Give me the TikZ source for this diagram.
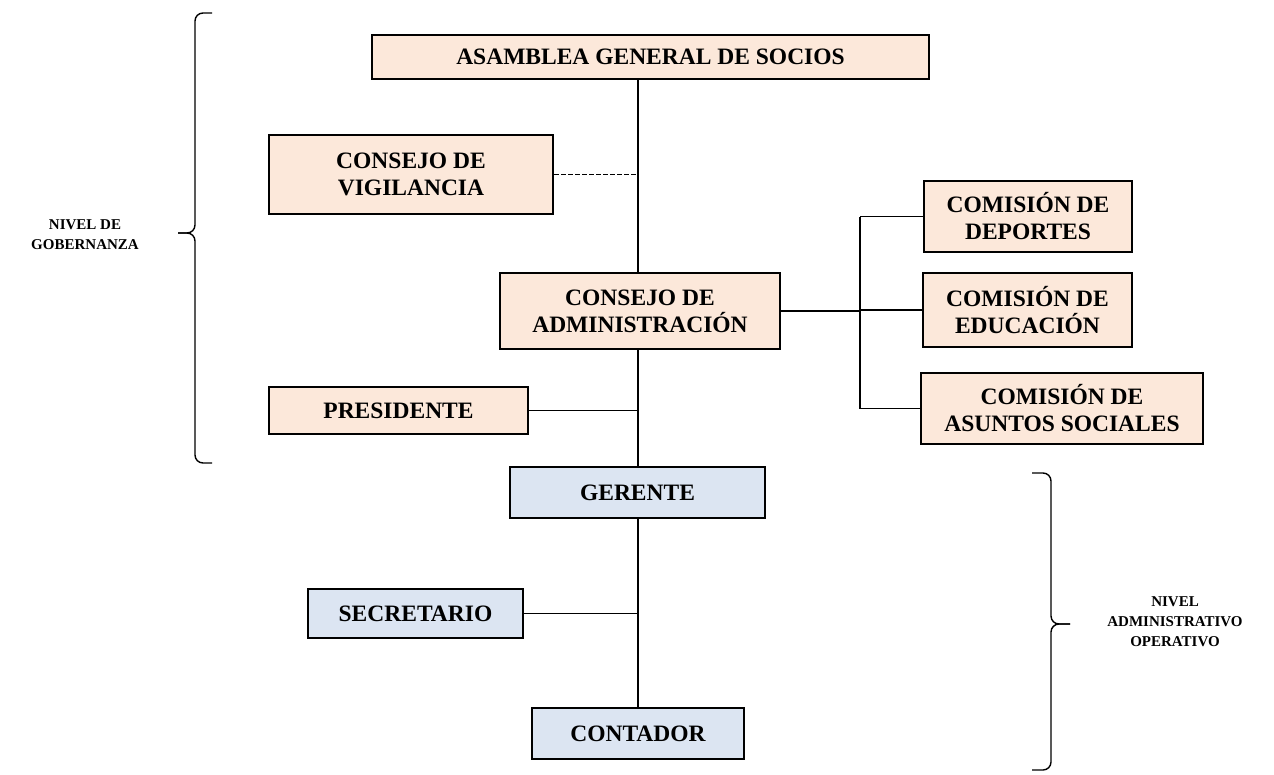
\documentclass[tikz,border=0pt]{standalone}
\usepackage{fontspec}
\setmainfont{Liberation Serif}
\definecolor{peach}{HTML}{FCE8DA}
\definecolor{lblue}{HTML}{DCE5F2}
\begin{document}
\begin{tikzpicture}[x=1pt,y=-1pt,
  box/.style={draw=black,line width=2pt,align=center,inner sep=0pt,
    font=\fontsize{23.5}{27}\selectfont\bfseries},
  gov/.style={box,fill=peach},
  adm/.style={box,fill=lblue},
  link/.style={draw=black,line width=1.3pt},
  dlink/.style={link,dash pattern=on 4.5pt off 2.5pt},
  brc/.style={draw=black,line width=1.4pt,rounded corners=8pt},
  lvl/.style={align=center,inner sep=0pt,font=\fontsize{15}{20}\selectfont\bfseries}]
\useasboundingbox (0,0) rectangle (1274,774);
\coordinate (sx) at (638,0);
\coordinate (cx) at (860,0);
\node[gov,minimum width=557pt,minimum height=44pt] (asamblea) at (650.5,57) {ASAMBLEA GENERAL DE SOCIOS};
\node[gov,minimum width=284pt,minimum height=79pt] (vigilancia) at (411,174.5) {CONSEJO DE\\VIGILANCIA};
\node[gov,minimum width=280pt,minimum height=76pt] (admin) at (640,311) {CONSEJO DE\\ADMINISTRACIÓN};
\node[gov,minimum width=259pt,minimum height=47pt] (presidente) at (398.5,410.5) {PRESIDENTE};
\node[gov,minimum width=208pt,minimum height=71pt] (deportes) at (1028,216.5) {COMISIÓN DE\\DEPORTES};
\node[gov,minimum width=209pt,minimum height=74pt] (educacion) at (1027.5,310) {COMISIÓN DE\\EDUCACIÓN};
\node[gov,minimum width=282pt,minimum height=71pt] (asuntos) at (1062,408.5) {COMISIÓN DE\\ASUNTOS SOCIALES};
\node[adm,minimum width=255pt,minimum height=51pt] (gerente) at (637.5,492.5) {GERENTE};
\node[adm,minimum width=215pt,minimum height=49pt] (secretario) at (415.5,613.5) {SECRETARIO};
\node[adm,minimum width=212pt,minimum height=51pt] (contador) at (638,733.5) {CONTADOR};
% connectors
\draw[link] (asamblea.south -| sx) -- (admin.north -| sx);
\draw[dlink] (vigilancia.east) -- (vigilancia.east -| sx);
\draw[link] (admin.south -| sx) -- (gerente.north -| sx);
\draw[link] (presidente.east) -- (presidente.east -| sx);
\draw[link] (admin.east) -- (admin.east -| cx);
\draw[link] (deportes.west -| cx) -- (asuntos.west -| cx);
\draw[link] (deportes.west -| cx) -- (deportes.west);
\draw[link] (educacion.west -| cx) -- (educacion.west);
\draw[link] (asuntos.west -| cx) -- (asuntos.west);
\draw[link] (gerente.south -| sx) -- (contador.north -| sx);
\draw[link] (secretario.east) -- (secretario.east -| sx);
% braces
\coordinate (b1t) at (212,13);
\coordinate (b1m) at (178,233);
\coordinate (b1b) at (212,463);
\draw[brc] (b1t) -- (195,13) -- (195,233) -- (b1m);
\draw[brc] (b1m) -- (195,233) -- (195,463) -- (b1b);
\node[lvl] (gob) at (85,235) {NIVEL DE\\GOBERNANZA};
\coordinate (b2t) at (1032,473);
\coordinate (b2m) at (1070,624);
\coordinate (b2b) at (1032,770);
\draw[brc] (b2t) -- (1051,473) -- (1051,624) -- (b2m);
\draw[brc] (b2m) -- (1051,624) -- (1051,770) -- (b2b);
\node[lvl] (ope) at (1175,622) {NIVEL\\ADMINISTRATIVO\\OPERATIVO};
\end{tikzpicture}
\end{document}
